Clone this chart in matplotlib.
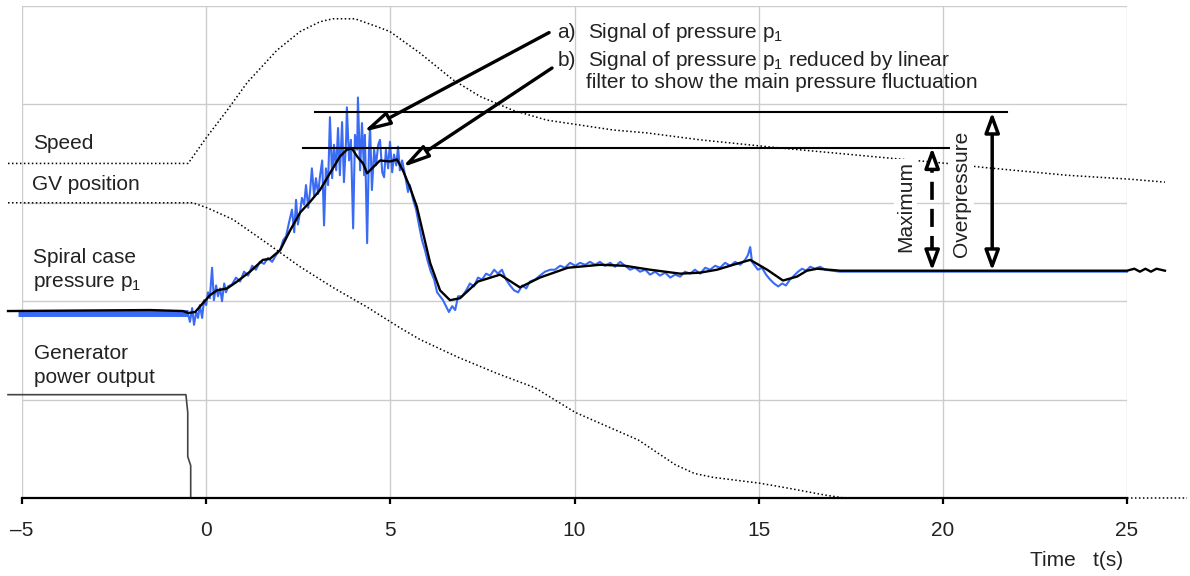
import matplotlib
matplotlib.use("Agg")
import matplotlib.pyplot as plt

plt.rcParams['font.family'] = ['Liberation Sans', 'DejaVu Sans']
plt.rcParams['mathtext.fontset'] = 'custom'
plt.rcParams['mathtext.rm'] = 'Liberation Sans'

TXT = '#222222'
BLUE = '#3a6bf5'

# x in seconds, y in grid units (arbitrary, 5 bands)
tick_pos = [-5, 0, 5, 10, 15, 20, 25]
tick_labels = ['\u20135', '0', '5', '10', '15', '20', '25']

speed_t = [-5.38, -0.49, 0.02, 0.57, 1.11, 1.92, 2.55, 3.09, 3.44, 4.04, 4.64, 4.99,
           5.81, 6.70, 7.44, 8.33, 9.25, 10.15, 11.05, 11.97, 13.41, 15.50, 18.38,
           20.12, 21.09, 23.37, 25.08, 26.03]
speed_y = [3.40, 3.40, 3.67, 3.94, 4.22, 4.55, 4.74, 4.84, 4.87, 4.87, 4.79, 4.74,
           4.52, 4.25, 4.08, 3.94, 3.84, 3.79, 3.74, 3.71, 3.64, 3.56, 3.46,
           3.40, 3.36, 3.28, 3.24, 3.21]

gv_t = [-5.38, -0.36, 0.02, 0.73, 1.65, 2.55, 3.44, 4.37, 5.26, 5.81, 6.84, 7.87,
        8.93, 10.02, 10.69, 11.73, 12.73, 13.25, 13.76, 15.04, 15.80, 16.80, 17.32, 26.63]
gv_y = [3.00, 3.00, 2.95, 2.83, 2.59, 2.35, 2.14, 1.94, 1.73, 1.61, 1.43, 1.27,
        1.12, 0.87, 0.76, 0.59, 0.34, 0.25, 0.21, 0.15, 0.10, 0.03, 0.0, 0.0]

gen_t = [-5.38, -0.55, -0.50, -0.50, -0.42, -0.42, 25.0]
gen_y = [1.05, 1.05, 0.87, 0.42, 0.33, 0.0, 0.0]

# filtered pressure p1
p_filt_t = [-5.38, -1.52, -0.63, -0.49, -0.30, -0.09, 0.10, 0.29, 0.57, 0.84,
            1.19, 1.54, 1.73, 2.01, 2.28, 2.55, 2.82, 3.09, 3.36, 3.63,
            3.82, 3.96, 4.10, 4.26, 4.37, 4.53, 4.72, 4.99, 5.18, 5.34,
            5.53, 5.72, 5.89, 6.08, 6.35, 6.62, 6.89, 7.38, 7.98, 8.52,
            9.06, 9.82, 10.69, 11.37, 12.05, 12.87, 13.41, 13.87, 14.31, 14.77,
            15.23, 15.66, 16.04, 16.31, 16.59, 17.21, 25.00, 25.20, 25.35, 25.50,
            25.65, 25.80, 26.03]
p_filt_y = [1.90, 1.91, 1.90, 1.88, 1.89, 1.98, 2.06, 2.11, 2.13, 2.20,
            2.30, 2.42, 2.43, 2.52, 2.72, 2.90, 3.01, 3.13, 3.30, 3.47,
            3.54, 3.55, 3.47, 3.40, 3.30, 3.36, 3.43, 3.42, 3.44, 3.33,
            3.16, 2.96, 2.69, 2.39, 2.11, 2.01, 2.03, 2.20, 2.27, 2.14,
            2.24, 2.34, 2.37, 2.36, 2.32, 2.28, 2.29, 2.32, 2.37, 2.42,
            2.32, 2.21, 2.25, 2.31, 2.33, 2.31, 2.31, 2.33, 2.30, 2.33,
            2.30, 2.33, 2.31]

# raw pressure p1 (steady part before the trip, then the measured trace)
p_base_t = [-5.1, -0.49]
p_base_y = [1.885, 1.885]
p_raw_t = [-0.49, -0.44, -0.38, -0.33, -0.27, -0.22, -0.17, -0.11, -0.06, 0.00,
           0.05, 0.10, 0.16, 0.21, 0.27, 0.32, 0.38, 0.43, 0.49, 0.54,
           0.59, 0.70, 0.81, 0.92, 1.03, 1.14, 1.25, 1.35, 1.46, 1.57,
           1.68, 1.79, 1.90, 2.01, 2.09, 2.17, 2.25, 2.33, 2.39, 2.44,
           2.49, 2.55, 2.60, 2.66, 2.71, 2.77, 2.82, 2.87, 2.93, 2.98,
           3.04, 3.09, 3.15, 3.20, 3.25, 3.31, 3.36, 3.42, 3.47, 3.53,
           3.58, 3.63, 3.69, 3.74, 3.80, 3.82, 3.88, 3.93, 3.99, 4.04,
           4.10, 4.12, 4.18, 4.23, 4.29, 4.31, 4.37, 4.42, 4.45, 4.50,
           4.56, 4.61, 4.67, 4.72, 4.78, 4.83, 4.88, 4.94, 4.99, 5.05,
           5.10, 5.16, 5.21, 5.26, 5.32, 5.40, 5.48, 5.53, 5.62, 5.70,
           5.78, 5.86, 5.94, 6.02, 6.10, 6.19, 6.27, 6.35, 6.43, 6.51,
           6.59, 6.68, 6.76, 6.84, 6.95, 7.06, 7.16, 7.27, 7.38, 7.49,
           7.60, 7.71, 7.82, 7.92, 8.03, 8.14, 8.25, 8.36, 8.47, 8.58,
           8.69, 8.79, 8.93, 9.06, 9.20, 9.34, 9.47, 9.61, 9.74, 9.88,
           10.02, 10.15, 10.29, 10.42, 10.56, 10.69, 10.83, 10.97, 11.10, 11.24,
           11.37, 11.51, 11.64, 11.78, 11.92, 12.05, 12.19, 12.32, 12.46, 12.60,
           12.73, 12.87, 13.00, 13.14, 13.27, 13.41, 13.55, 13.68, 13.82, 13.95,
           14.09, 14.23, 14.36, 14.50, 14.63, 14.71, 14.77, 14.82, 14.90, 14.98,
           15.09, 15.20, 15.31, 15.42, 15.53, 15.64, 15.74, 15.85, 15.96, 16.07,
           16.18, 16.29, 16.40, 16.53, 16.67, 16.80, 17.20, 25.00]
p_raw_y = [1.87, 1.79, 1.93, 1.76, 1.89, 1.83, 1.96, 1.83, 2.01, 1.96,
           2.09, 2.03, 2.34, 2.01, 2.16, 2.05, 2.13, 2.00, 2.18, 2.09,
           2.15, 2.17, 2.24, 2.20, 2.30, 2.26, 2.36, 2.32, 2.40, 2.38,
           2.44, 2.40, 2.47, 2.52, 2.62, 2.66, 2.80, 2.93, 2.70, 3.03,
           2.78, 2.91, 3.05, 2.98, 3.18, 2.95, 3.11, 3.35, 3.07, 3.25,
           3.09, 3.27, 3.43, 2.77, 3.35, 3.18, 3.87, 3.25, 3.59, 3.33,
           3.76, 3.28, 3.82, 3.21, 3.64, 3.97, 3.43, 3.64, 2.74, 3.69,
           3.54, 4.07, 3.33, 3.81, 3.28, 3.69, 2.59, 3.54, 3.77, 3.13,
           3.54, 3.38, 3.59, 3.64, 3.31, 3.26, 3.54, 3.35, 3.62, 3.31,
           3.49, 3.38, 3.57, 3.33, 3.43, 3.28, 3.11, 3.18, 3.03, 2.93,
           2.77, 2.62, 2.52, 2.40, 2.30, 2.22, 2.09, 2.05, 2.01, 1.95,
           1.89, 1.95, 1.91, 2.05, 2.05, 2.11, 2.18, 2.15, 2.24, 2.22,
           2.28, 2.26, 2.32, 2.28, 2.32, 2.22, 2.16, 2.11, 2.09, 2.16,
           2.13, 2.20, 2.22, 2.26, 2.30, 2.32, 2.32, 2.36, 2.34, 2.39,
           2.36, 2.39, 2.37, 2.40, 2.37, 2.40, 2.36, 2.39, 2.35, 2.40,
           2.36, 2.32, 2.34, 2.30, 2.32, 2.27, 2.30, 2.26, 2.29, 2.24,
           2.27, 2.25, 2.30, 2.28, 2.32, 2.28, 2.34, 2.32, 2.36, 2.34,
           2.39, 2.36, 2.40, 2.37, 2.42, 2.47, 2.55, 2.40, 2.36, 2.32,
           2.34, 2.27, 2.22, 2.18, 2.15, 2.18, 2.16, 2.22, 2.26, 2.30,
           2.33, 2.31, 2.35, 2.33, 2.35, 2.32, 2.30, 2.30]

# reference levels
p_final = 2.31
p_max_filt = 3.56
p_max_raw = 3.92
filt_line = (2.63, 20.17)
raw_line = (2.96, 21.75)
t_max_arrow = 19.71
t_over_arrow = 21.34

fig = plt.figure(figsize=(11.9, 5.76), dpi=100)
ax = fig.add_axes([22 / 1190, 78 / 576, 1105 / 1190, 492 / 576])
ax.set_xlim(-5, 25)
ax.set_ylim(0, 5)
ax.set_xticks(tick_pos)
ax.set_xticklabels(tick_labels)
ax.set_yticks(range(6))
ax.tick_params(axis='y', length=0, labelleft=False)
ax.tick_params(axis='x', direction='out', length=4.5, width=1.6, pad=12,
               labelsize=15, labelcolor=TXT)
ax.grid(True, color='#cccccc', lw=1.0)
ax.set_axisbelow(True)
for s in ['top', 'right', 'left']:
    ax.spines[s].set_visible(False)
ax.spines['bottom'].set_linewidth(1.6)

dot = (0, (1, 1.6))
ax.plot(speed_t, speed_y, color='black', ls=dot, lw=1.1, clip_on=False)
ax.plot(gv_t, gv_y, color='black', ls=dot, lw=1.1, clip_on=False)
ax.plot(gen_t, gen_y, color='#444444', lw=1.2, clip_on=False)

ax.plot(p_base_t, p_base_y, color=BLUE, lw=5, solid_capstyle='butt', clip_on=False)
ax.plot(p_raw_t, p_raw_y, color=BLUE, lw=1.5, clip_on=False)
ax.plot(p_filt_t, p_filt_y, color='black', lw=1.7, clip_on=False)

# peak levels
ax.plot(raw_line, [p_max_raw] * 2, color='black', lw=1.5)
ax.plot(filt_line, [p_max_filt] * 2, color='black', lw=1.5)

# overpressure arrow (solid)
ax.annotate('', xy=(t_over_arrow, p_max_raw), xytext=(t_over_arrow, p_final),
            arrowprops=dict(arrowstyle='<|-|>,head_length=0.6,head_width=0.22',
                            mutation_scale=20, fc='white', ec='black', lw=2.5,
                            shrinkA=0, shrinkB=0))
# maximum arrow (dashed shaft)
ax.plot([t_max_arrow] * 2, [p_final + 0.17, p_max_filt - 0.17], color='black',
        lw=2.6, ls=(0, (5, 2.5)))
for y_tip, y_from in [(p_max_filt, p_max_filt - 0.17), (p_final, p_final + 0.17)]:
    ax.annotate('', xy=(t_max_arrow, y_tip), xytext=(t_max_arrow, y_from),
                arrowprops=dict(arrowstyle='-|>,head_length=0.6,head_width=0.22',
                                mutation_scale=20, fc='white', ec='black', lw=2.5,
                                shrinkA=0, shrinkB=0))

box = dict(fc='white', ec='none', pad=1.5)
ax.text(18.98, 2.96, 'Maximum', rotation=90, ha='center', va='center',
        fontsize=15, color=TXT, bbox=box)
ax.text(20.52, 3.09, 'Overpressure', rotation=90, ha='center', va='center',
        fontsize=15, color=TXT, bbox=box)

# callouts
arrow_kw = dict(arrowstyle='-|>,head_length=0.8,head_width=0.2', mutation_scale=20,
                fc='white', ec='black', lw=2.4, shrinkA=0, shrinkB=0)
ax.annotate('', xy=(4.26, 3.72), xytext=(9.31, 4.73), arrowprops=arrow_kw,
            annotation_clip=False)
ax.annotate('', xy=(5.32, 3.36), xytext=(9.39, 4.37), arrowprops=arrow_kw,
            annotation_clip=False)

ax.text(9.53, 4.73, 'a)', ha='left', va='center', fontsize=15, color=TXT)
ax.text(10.37, 4.73, 'Signal of pressure p$_1$', ha='left', va='center',
        fontsize=15, color=TXT)
ax.text(9.53, 4.45, 'b)', ha='left', va='center', fontsize=15, color=TXT)
ax.text(10.37, 4.45, 'Signal of pressure p$_1$ reduced by linear', ha='left',
        va='center', fontsize=15, color=TXT)
ax.text(10.31, 4.22, 'filter to show the main pressure fluctuation', ha='left',
        va='center', fontsize=15, color=TXT)

# series labels
ax.text(-4.70, 3.60, 'Speed', ha='left', va='center', fontsize=15, color=TXT)
ax.text(-4.73, 3.19, 'GV position', ha='left', va='center', fontsize=15, color=TXT)
ax.text(-4.70, 2.44, 'Spiral case', ha='left', va='center', fontsize=15, color=TXT)
ax.text(-4.70, 2.18, 'pressure p$_1$', ha='left', va='center', fontsize=15, color=TXT)
ax.text(-4.67, 1.47, 'Generator', ha='left', va='center', fontsize=15, color=TXT)
ax.text(-4.67, 1.22, 'power output', ha='left', va='center', fontsize=15, color=TXT)

ax.text(23.62, -0.64, 'Time   t(s)', ha='center', va='center', fontsize=15,
        color=TXT, clip_on=False)

fig.savefig('out.png', dpi=100)
